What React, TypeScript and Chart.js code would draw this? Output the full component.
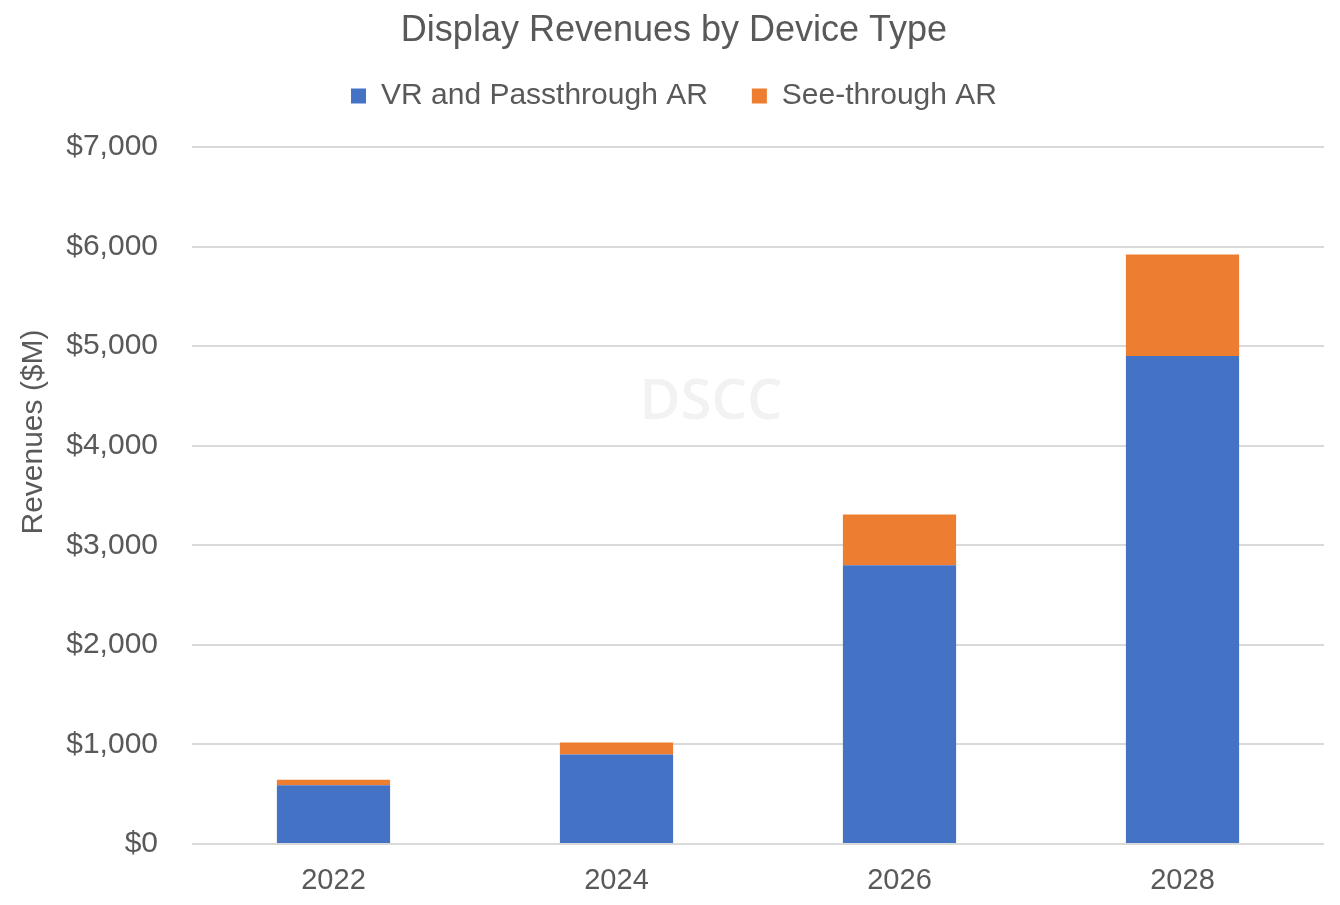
import React, { useEffect, useRef } from "react";
import { Chart, registerables } from "chart.js";

Chart.register(...registerables);

const categories = ["2022", "2024", "2026", "2028"];
const vrPassthroughAR = [590, 900, 2800, 4900];
const seeThroughAR = [55, 120, 510, 1020];
const yTicks = [0, 1000, 2000, 3000, 4000, 5000, 6000, 7000];
const yAxisTitle = "Revenues ($M)";

const FONT = '"Liberation Sans", Arial, sans-serif';
const GREY = "#595959";

const watermark = {
  id: "watermark",
  beforeDatasetsDraw(chart: any) {
    const { ctx } = chart;
    ctx.save();
    ctx.font = '600 56px "Open Sans", sans-serif';
    ctx.fillStyle = "#f2f2f2";
    ctx.textAlign = "center";
    ctx.textBaseline = "middle";
    ctx.fillText("DSCC", 711, 403);
    ctx.restore();
  },
};

const yTitlePlugin = {
  id: "yTitlePlugin",
  afterDraw(chart: any) {
    const { ctx } = chart;
    ctx.save();
    ctx.translate(34, 432);
    ctx.rotate(-Math.PI / 2);
    ctx.font = "30px " + FONT;
    ctx.fillStyle = GREY;
    ctx.textAlign = "center";
    ctx.textBaseline = "middle";
    ctx.fillText(yAxisTitle, 0, 0);
    ctx.restore();
  },
};

export default function App() {
  const ref = useRef<HTMLCanvasElement | null>(null);

  useEffect(() => {
    document.body.style.margin = "0";
    const canvas = ref.current;
    if (!canvas) return;
    const chart = new Chart(canvas, {
      type: "bar",
      data: {
        labels: categories,
        datasets: [
          {
            label: "VR and Passthrough AR",
            data: vrPassthroughAR,
            backgroundColor: "#4472C4",
            borderWidth: 0,
          },
          {
            label: "See-through AR",
            data: seeThroughAR,
            backgroundColor: "#ED7D31",
            borderWidth: 0,
          },
        ],
      },
      plugins: [watermark, yTitlePlugin],
      options: {
        responsive: false,
        animation: false,
        devicePixelRatio: 1,
        layout: { padding: { left: 8, right: 0, top: 0, bottom: 0 } },
        datasets: {
          bar: { categoryPercentage: 1, barPercentage: 0.4 },
        },
        plugins: {
          title: {
            display: true,
            text: "Display Revenues by Device Type",
            color: GREY,
            font: { family: FONT, size: 36, weight: "normal" },
            padding: { top: 9.6, bottom: -15.8 },
          },
          legend: {
            display: true,
            position: "top",
            labels: {
              color: GREY,
              font: { family: FONT, size: 30 },
              boxWidth: 15,
              boxHeight: 15,
              padding: 44,
            },
          },
          tooltip: { enabled: false },
        },
        scales: {
          x: {
            stacked: true,
            grid: { display: false, drawTicks: false },
            border: { display: false },
            ticks: {
              color: GREY,
              font: { family: FONT, size: 29 },
              padding: 20,
            },
            afterFit: (s: any) => {
              s.height = 61;
            },
          },
          y: {
            stacked: true,
            min: 0,
            max: 7000,
            afterBuildTicks: (s: any) => {
              s.ticks = yTicks.map((v) => ({ value: v }));
            },
            grid: { color: "#d9d9d9", lineWidth: 2, drawTicks: false },
            border: { display: false },
            ticks: {
              color: GREY,
              font: { family: FONT, size: 30 },
              padding: 34,
              callback: (v: any) => "$" + Number(v).toLocaleString("en-US"),
            },
            afterFit: (s: any) => {
              s.width = 184;
            },
          },
          topSpacer: {
            type: "linear",
            axis: "x",
            position: "top",
            display: true,
            grid: { display: false },
            border: { display: false },
            ticks: { display: false },
            afterFit: (s: any) => {
              s.height = 26;
            },
          },
          rightSpacer: {
            type: "linear",
            axis: "y",
            position: "right",
            display: true,
            grid: { display: false },
            border: { display: false },
            ticks: { display: false },
            afterFit: (s: any) => {
              s.width = 16;
            },
          },
        } as any,
      },
    } as any);
    return () => chart.destroy();
  }, []);

  return (
    <div style={{ position: "absolute", left: 0, top: 0, width: 1340, height: 905, background: "#fff" }}>
      <canvas ref={ref} width={1340} height={905} style={{ width: 1340, height: 905 }} />
    </div>
  );
}
